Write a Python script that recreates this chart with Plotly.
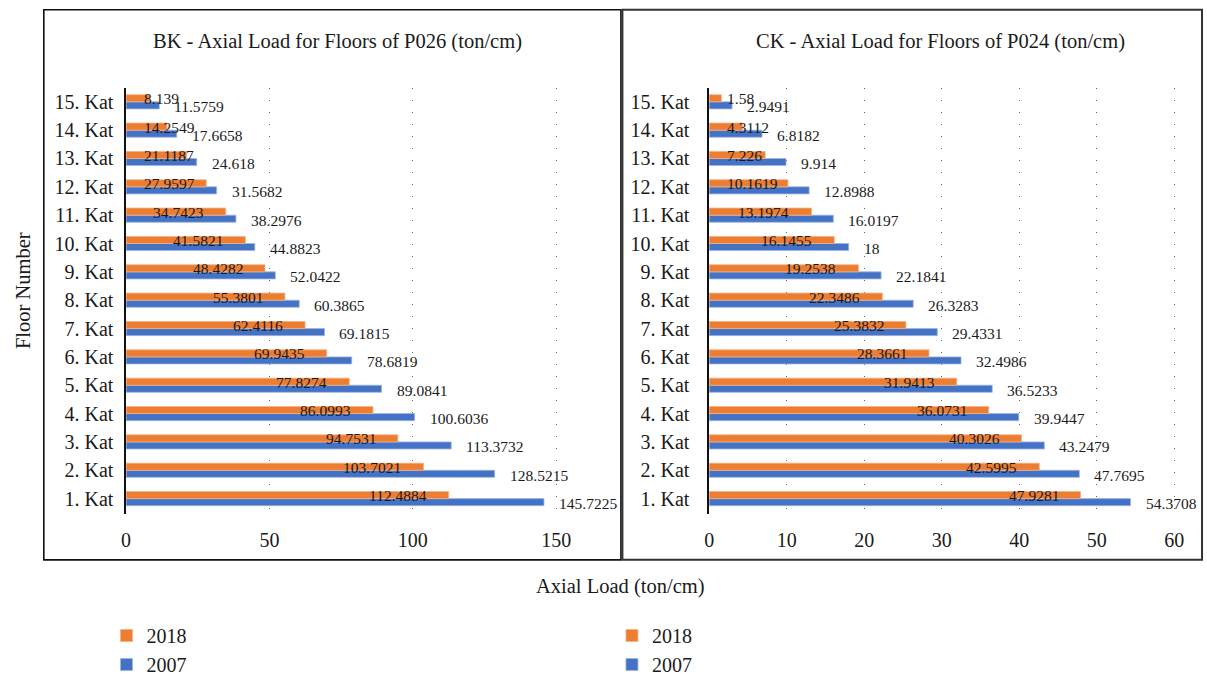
import plotly.graph_objects as go

# ---------------- data ----------------
floors = [f"{i}. Kat" for i in range(1, 16)]

bk_2018 = [112.4884, 103.7021, 94.7531, 86.0993, 77.8274, 69.9435, 62.4116, 55.3801,
           48.4282, 41.5821, 34.7423, 27.9597, 21.1187, 14.2549, 8.139]
bk_2007 = [145.7225, 128.5215, 113.3732, 100.6036, 89.0841, 78.6819, 69.1815, 60.3865,
           52.0422, 44.8823, 38.2976, 31.5682, 24.618, 17.6658, 11.5759]

ck_2018 = [47.9281, 42.5995, 40.3026, 36.0731, 31.9413, 28.3661, 25.3832, 22.3486,
           19.2538, 16.1455, 13.1974, 10.1619, 7.226, 4.3112, 1.58]
ck_2007 = [54.3708, 47.7695, 43.2479, 39.9447, 36.5233, 32.4986, 29.4331, 26.3283,
           22.1841, 18.0, 16.0197, 12.8988, 9.914, 6.8182, 2.9491]

series_names = ["2018", "2007"]
titles = ["BK - Axial Load for Floors of P026 (ton/cm)",
          "CK - Axial Load for Floors of P024 (ton/cm)"]
x_title = "Axial Load (ton/cm)"
y_title = "Floor Number"
left_ticks = [0, 50, 100, 150]
right_ticks = [0, 10, 20, 30, 40, 50, 60]

# ---------------- style ----------------
W, H = 1207, 684
ORANGE = "#ED7D31"
BLUE = "#4472C4"
FONT = "Liberation Serif"
TXT = "#1a1a1a"

def px(x):
    return x / W

def py(y):
    return 1 - y / H

left_range = [0, 155]
right_range = [0, 61.5]
left_dom = [px(121.7), px(121.7 + 155 * 2.882)]
right_dom = [px(707.7), px(707.7 + 61.5 * 7.788)]
y_dom = [py(528), py(90)]

fig = go.Figure()

def fmt(v):
    return f"{v:.4f}".rstrip("0").rstrip(".")

def add_panel(v2018, v2007, xa, ya, legend):
    fig.add_trace(go.Bar(y=floors, x=v2007, orientation="h", name=series_names[1],
                         marker=dict(color=BLUE, line=dict(color="#9DB5E0", width=0.8)),
                         xaxis=xa, yaxis=ya, legend=legend, hoverinfo="x+y"))
    fig.add_trace(go.Bar(y=floors, x=v2018, orientation="h", name=series_names[0],
                         marker=dict(color=ORANGE, line=dict(color="#F4B183", width=0.8)),
                         xaxis=xa, yaxis=ya, legend=legend, hoverinfo="x+y"))

add_panel(bk_2018, bk_2007, "x", "y", "legend")
add_panel(ck_2018, ck_2007, "x2", "y2", "legend2")

annotations = []
LBL = dict(family=FONT, size=15.5, color=TXT)

def text_width(s, size=15.5):
    return sum(0.25 if c == "." else 0.5 for c in s) * size

def add_labels(v2018, v2007, xref, yref, scale):
    for f, a, b in zip(floors, v2018, v2007):
        s = fmt(a)
        wpx = text_width(s)
        if a * scale - 20 - wpx < 16:
            annotations.append(dict(x=0, y=f, xref=xref, yref=yref, text=s,
                                    xanchor="left", yanchor="middle", xshift=16, yshift=3,
                                    showarrow=False, font=LBL))
        else:
            annotations.append(dict(x=a, y=f, xref=xref, yref=yref, text=s,
                                    xanchor="right", yanchor="middle", xshift=-20, yshift=3,
                                    showarrow=False, font=LBL))
        annotations.append(dict(x=b, y=f, xref=xref, yref=yref, text=fmt(b),
                                xanchor="left", yanchor="middle", xshift=13, yshift=-5,
                                showarrow=False, font=LBL))

add_labels(bk_2018, bk_2007, "x", "y", 2.882)
add_labels(ck_2018, ck_2007, "x2", "y2", 7.788)

def paper_text(x, y, text, size, angle=0):
    annotations.append(dict(x=px(x), y=py(y), xref="paper", yref="paper", text=text,
                            xanchor="center", yanchor="middle", textangle=angle,
                            showarrow=False, font=dict(family=FONT, size=size, color=TXT)))

paper_text(334, 43, titles[0], 20.5)
paper_text(940, 43, titles[1], 20.5)
paper_text(618.5, 602, x_title, 20.5)
paper_text(18, 298, y_title, 20.5, angle=-90)

grid_common = dict(showgrid=True, gridcolor="#666666", griddash="1px,11px", gridwidth=1.2,
                   zeroline=False, showline=False, ticks="",
                   tickfont=dict(family=FONT, size=20, color=TXT), ticklabelstandoff=12,
                   fixedrange=True)

yaxis_common = dict(type="category", categoryorder="array", categoryarray=floors,
                    showline=True, linecolor="#111111", linewidth=1.5, showgrid=False,
                    ticks="", tickfont=dict(family=FONT, size=20, color=TXT),
                    domain=y_dom, fixedrange=True)

legend_common = dict(xanchor="left", yanchor="top", traceorder="reversed",
                     font=dict(family=FONT, size=20, color=TXT), bgcolor="rgba(0,0,0,0)",
                     tracegroupgap=0, itemclick=False, itemdoubleclick=False)

fig.update_layout(
    width=W, height=H,
    margin=dict(l=0, r=0, t=0, b=0),
    paper_bgcolor="white", plot_bgcolor="white",
    barmode="group", bargap=0.5, bargroupgap=0.0,
    font=dict(family=FONT, color=TXT),
    xaxis=dict(domain=left_dom, range=left_range, tickvals=left_ticks, anchor="y", **grid_common),
    yaxis=dict(anchor="x", ticklabelstandoff=7, **yaxis_common),
    xaxis2=dict(domain=right_dom, range=right_range, tickvals=right_ticks, anchor="y2", **grid_common),
    yaxis2=dict(anchor="x2", ticklabelstandoff=14, **yaxis_common),
    legend=dict(x=px(102), y=py(633), **legend_common),
    legend2=dict(x=px(610), y=py(633), **legend_common),
    annotations=annotations,
    shapes=[
        dict(type="rect", xref="paper", yref="paper", x0=px(39), x1=px(619), y0=py(575), y1=py(10),
             line=dict(color="#111111", width=1.6), fillcolor="rgba(0,0,0,0)", layer="above"),
        dict(type="rect", xref="paper", yref="paper", x0=px(620.5), x1=px(1203), y0=py(575), y1=py(10),
             line=dict(color="#333333", width=2), fillcolor="rgba(0,0,0,0)", layer="above"),
    ],
)

fig.write_html("out.html")
